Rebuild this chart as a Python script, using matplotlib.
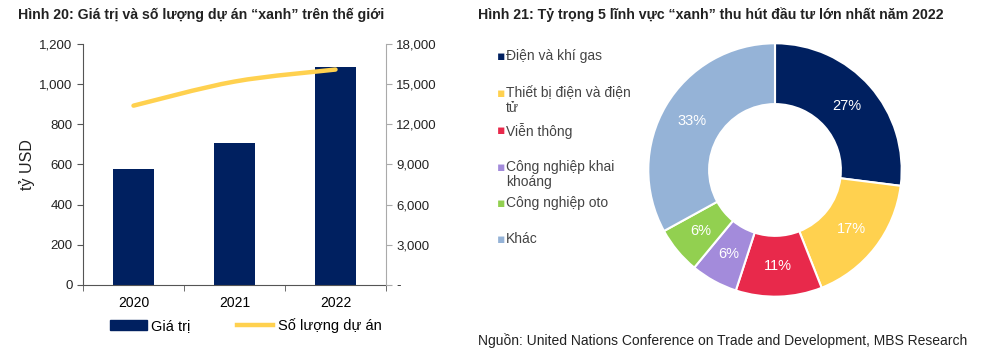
import numpy as np
import matplotlib.pyplot as plt
from matplotlib.path import Path
from matplotlib.patches import PathPatch, Patch
from matplotlib.lines import Line2D

plt.rcParams['font.family'] = ['Liberation Sans', 'DejaVu Sans']

# data - left chart
years = ['2020', '2021', '2022']
gia_tri = [580, 705, 1085]
so_luong = [13400, 15200, 16100]

# data - donut
sectors = ['Điện và khí gas', 'Thiết bị điện và điện\ntử', 'Viễn thông',
           'Công nghiệp khai\nkhoáng', 'Công nghiệp oto', 'Khác']
shares = [27, 17, 11, 6, 6, 33]
colors = ['#002060', '#FFD14F', '#E8294B', '#A38BDB', '#92D050', '#95B3D7']

navy = '#002060'
yellow = '#FFD14F'
txt = '#222222'

fig = plt.figure(figsize=(10, 3.53), dpi=100)

fig.text(0.018, 0.958, 'Hình 20: Giá trị và số lượng dự án “xanh” trên thế giới',
         fontsize=10.2, fontweight='bold', color=txt, va='center')
fig.text(0.478, 0.958, 'Hình 21: Tỷ trọng 5 lĩnh vực “xanh” thu hút đầu tư lớn nhất năm 2022',
         fontsize=10.2, fontweight='bold', color=txt, va='center')

# left chart
ax = fig.add_axes([0.083, 0.193, 0.303, 0.682])
x = np.arange(len(years))
ax.bar(x, gia_tri, width=0.4, color=navy, zorder=2)
ax.set_xlim(-0.5, 2.5)
ax.set_ylim(0, 1200)
ax.set_yticks(range(0, 1201, 200))
ax.set_yticklabels([f'{v:,}' for v in range(0, 1201, 200)], fontsize=9.5)
ax.set_xticks(x)
ax.set_xticklabels(years, fontsize=10)
ax.tick_params(axis='x', length=0, pad=8)
ax.set_xticks([-0.5, 0.5, 1.5, 2.5], minor=True)
ax.tick_params(axis='x', which='minor', length=4, direction='out', color='#555555')
ax.tick_params(axis='y', length=4, color='#555555', colors=txt)
ax.set_ylabel('tỷ USD', fontsize=11.5, color=txt, labelpad=3)
ax.spines['top'].set_visible(False)
ax.spines['right'].set_visible(False)
ax.spines['left'].set_color('#555555')
ax.spines['bottom'].set_color('#555555')

ax2 = ax.twinx()
ax2.set_ylim(0, 18000)
ax2.set_yticks(range(0, 18001, 3000))
ax2.set_yticklabels(['-'] + [f'{v:,}' for v in range(3000, 18001, 3000)], fontsize=9.5)
ax2.tick_params(axis='y', length=4, color='#aaaaaa', colors=txt)
for s in ['top', 'left', 'bottom']:
    ax2.spines[s].set_visible(False)
ax2.spines['right'].set_color('#aaaaaa')

# smoothed line (Catmull-Rom style bezier through the points)
pts = np.column_stack([x, so_luong]).astype(float)
verts = [tuple(pts[0])]
codes = [Path.MOVETO]
t = 1 / 6
for i in range(len(pts) - 1):
    p0 = pts[i - 1] if i > 0 else pts[i]
    p1, p2 = pts[i], pts[i + 1]
    p3 = pts[i + 2] if i + 2 < len(pts) else pts[i + 1]
    c1 = p1 + (p2 - p0) * t
    c2 = p2 - (p3 - p1) * t
    verts += [tuple(c1), tuple(c2), tuple(p2)]
    codes += [Path.CURVE4] * 3
ax2.add_patch(PathPatch(Path(verts, codes), fill=False, edgecolor=yellow,
                        lw=3.2, capstyle='round', zorder=3))

handles = [Patch(color=navy), Line2D([0], [0], color=yellow, lw=3.2)]
fig.legend(handles, ['Giá trị', 'Số lượng dự án'], loc='center left',
           bbox_to_anchor=(0.097, 0.077), ncol=2, frameon=False, fontsize=10.5,
           handlelength=2.5, handleheight=0.6, columnspacing=3.2, handletextpad=0.3)

# donut
axp = fig.add_axes([0.647, 0.156, 0.256, 0.725])
wedges, _, autotexts = axp.pie(shares, colors=colors, startangle=90, counterclock=False,
                               autopct='%d%%', pctdistance=0.76,
                               wedgeprops=dict(width=0.48, edgecolor='white', linewidth=1.5),
                               textprops=dict(color='white', fontsize=10.5))
axp.set_xlim(-1.01, 1.01)
axp.set_ylim(-1.01, 1.01)
axp.set_aspect('equal')

ys = [0.862, 0.757, 0.651, 0.548, 0.444, 0.342]
for lab, c, yy in zip(sectors, colors, ys):
    fig.text(0.497, yy - 0.003, '▪', color=c, fontsize=9, va='top', family=['DejaVu Sans'])
    fig.text(0.506, yy, lab, color='#444444', fontsize=10, va='top', linespacing=1.1)

fig.text(0.478, 0.035, 'Nguồn: United Nations Conference on Trade and Development, MBS Research',
         fontsize=10, color=txt, va='center')

fig.savefig('out.png', dpi=100)
